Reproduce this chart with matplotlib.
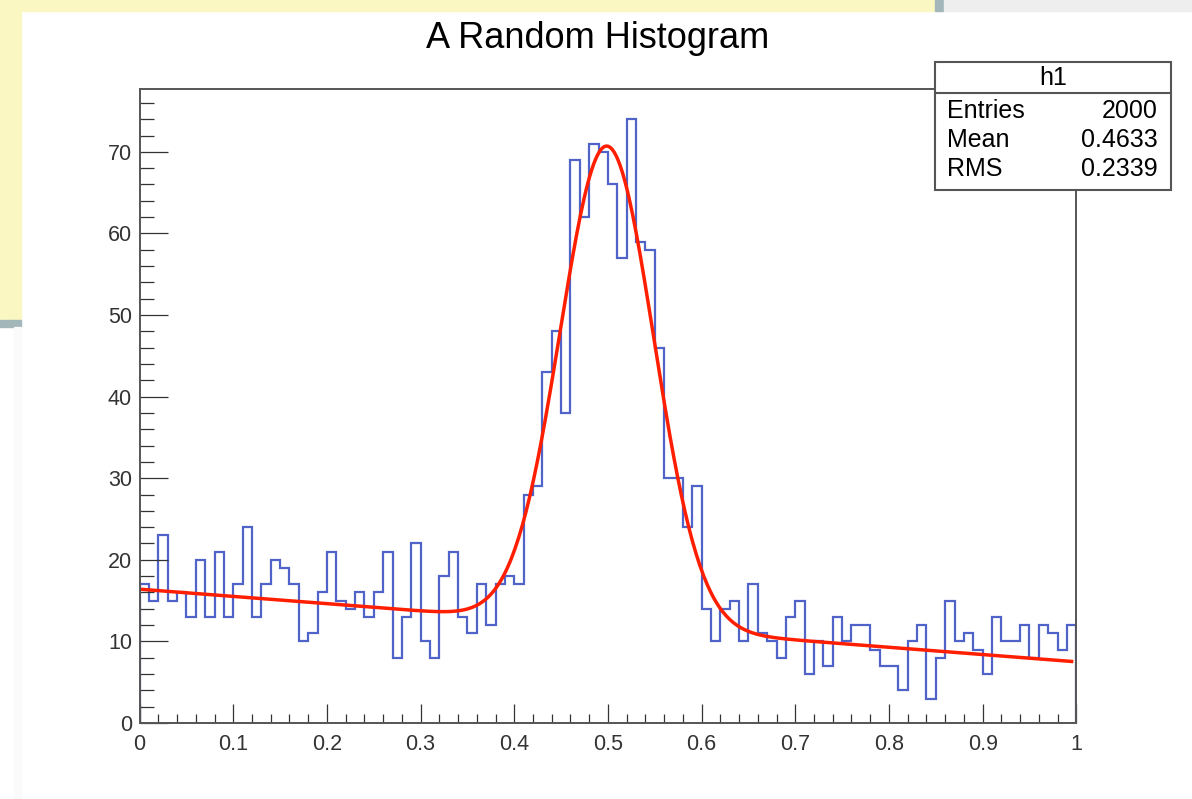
#Import Packages
import numpy as np
import matplotlib
matplotlib.use('Agg')
import matplotlib.pyplot as plt
from matplotlib.patches import Rectangle
from matplotlib.ticker import MultipleLocator

plt.rcParams['font.family'] = ['Liberation Sans', 'DejaVu Sans']

#Data
bin_edges = np.linspace(0, 1, 101)
counts = [17, 15, 23, 15, 16, 13, 20, 13, 21, 13,
          17, 24, 13, 17, 20, 19, 17, 10, 11, 16,
          21, 15, 14, 16, 13, 16, 21, 8, 13, 22,
          10, 8, 18, 21, 13, 11, 17, 12, 17, 18,
          17, 28, 29, 43, 48, 38, 69, 62, 71, 70,
          66, 57, 74, 59, 58, 46, 30, 30, 24, 29,
          14, 10, 14, 15, 10, 17, 11, 10, 8, 13,
          15, 6, 10, 7, 13, 10, 12, 12, 9, 7,
          7, 4, 10, 12, 3, 8, 15, 10, 11, 9,
          6, 13, 10, 10, 12, 8, 12, 11, 9, 12]

#Fit parameters (pol1 + gaus)
p0, p1 = 16.4, -8.9
amp, mu, sigma = 58.75, 0.499, 0.05

stats_names = ['Entries', 'Mean', 'RMS']
stats_values = ['2000', '0.4633', '0.2339']

W, H = 1192, 799

def fx(px):
    return px / W

def fy(py):
    return 1 - py / H

#Figure
fig = plt.figure(figsize=(W / 100, H / 100), dpi=100)
fig.patch.set_facecolor('white')

#Screenshot background bits
bg = [(0, 0, 935, 11, '#faf7c3'), (0, 0, 21, 320, '#faf7c3'),
      (935, 0, 9, 11, '#a3b7ba'), (0, 320, 21, 7, '#a3b7ba'),
      (944, 0, 248, 11, '#eeeeee'), (14, 327, 7, 472, '#fafafa')]
for x0, y0, w, h, c in bg:
    fig.patches.append(Rectangle((fx(x0), fy(y0 + h)), w / W, h / H,
                                 transform=fig.transFigure, color=c, zorder=0))

ax = fig.add_axes([fx(139.6), fy(723), (1076.3 - 139.6) / W, (723 - 89) / H])

#Histogram + fit
ax.stairs(counts, bin_edges, color='#4f63c8', lw=1.6)
xf = np.linspace(0, 0.995, 500)
yf = p0 + p1 * xf + amp * np.exp(-0.5 * ((xf - mu) / sigma) ** 2)
ax.plot(xf, yf, color='#ff1f00', lw=2.5)

ax.set_xlim(0, 1)
ax.set_ylim(0, 77.7)
ax.xaxis.set_minor_locator(MultipleLocator(0.02))
ax.yaxis.set_major_locator(MultipleLocator(10))
ax.yaxis.set_minor_locator(MultipleLocator(2))
ax.set_xticks(np.arange(0, 1.01, 0.1))
ax.set_xticklabels(['0', '0.1', '0.2', '0.3', '0.4', '0.5', '0.6', '0.7', '0.8', '0.9', '1'])
ax.tick_params(axis='x', which='major', direction='in', length=13.5, width=0.9,
               pad=8, labelsize=15.5, colors='#333333')
ax.tick_params(axis='x', which='minor', direction='in', length=6.5, width=0.9, colors='#333333')
ax.tick_params(axis='y', which='major', direction='in', length=20, width=0.9,
               pad=5.5, labelsize=15.5, colors='#333333')
ax.tick_params(axis='y', which='minor', direction='in', length=10, width=0.9, colors='#333333')
for s in ax.spines.values():
    s.set_color('#555555')
    s.set_linewidth(1.4)

#Title
fig.text(fx(598), fy(48), 'A Random Histogram', fontsize=26, ha='center', va='baseline')

#Stats box
fig.patches.append(Rectangle((fx(935), fy(190)), (1171 - 935) / W, (190 - 62) / H,
                             transform=fig.transFigure, facecolor='white',
                             edgecolor='#555555', lw=1.5, zorder=5))
fig.lines.append(plt.Line2D([fx(935), fx(1171)], [fy(93), fy(93)],
                            transform=fig.transFigure, color='#555555', lw=1.5, zorder=6))
fig.text(fx(1053), fy(78), 'h1', fontsize=18, ha='center', va='center', zorder=7)
for i, (n, v) in enumerate(zip(stats_names, stats_values)):
    yy = fy(111 + 29 * i)
    fig.text(fx(947), yy, n, fontsize=18, ha='left', va='center', zorder=7)
    fig.text(fx(1158), yy, v, fontsize=18, ha='right', va='center', zorder=7)

plt.savefig('out.png', dpi=100)
